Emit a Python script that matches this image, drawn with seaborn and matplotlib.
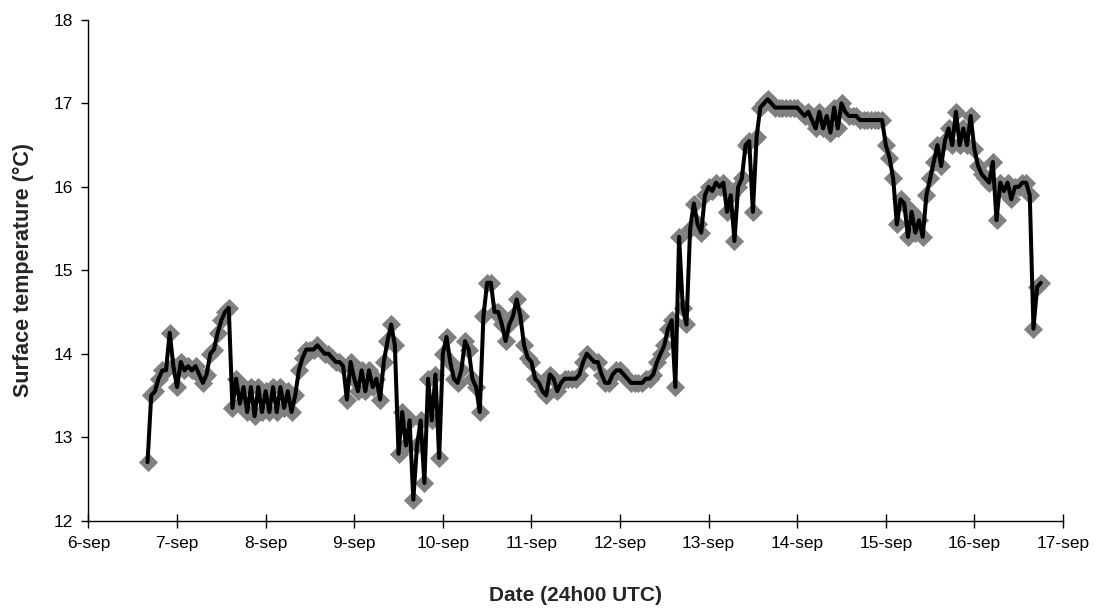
import matplotlib
matplotlib.use("Agg")
import matplotlib.pyplot as plt
import pandas as pd
import seaborn as sns

# hourly surface temperature readings (°C); first reading 6-sep 16h00 UTC
first_hour = 16
sep06 = [12.7, 13.5, 13.55, 13.7, 13.8, 13.8, 14.25, 13.85]
sep07 = [13.6, 13.9, 13.8, 13.85, 13.8, 13.85, 13.75, 13.65, 13.75, 14.0, 14.05, 14.25,
         14.4, 14.5, 14.55, 13.35, 13.7, 13.4, 13.6, 13.3, 13.6, 13.25, 13.6, 13.3]
sep08 = [13.55, 13.3, 13.6, 13.3, 13.6, 13.35, 13.55, 13.3, 13.5, 13.8, 13.95, 14.05,
         14.05, 14.05, 14.1, 14.05, 14.0, 14.0, 13.95, 13.9, 13.9, 13.85, 13.45, 13.9]
sep09 = [13.7, 13.55, 13.8, 13.55, 13.8, 13.6, 13.7, 13.45, 13.9, 14.15, 14.35, 14.1,
         12.8, 13.3, 12.9, 13.2, 12.25, 12.9, 13.2, 12.45, 13.7, 13.2, 13.75, 12.75]
sep10 = [14.0, 14.2, 13.9, 13.7, 13.65, 13.8, 14.15, 14.05, 13.7, 13.6, 13.3, 14.45,
         14.85, 14.85, 14.5, 14.5, 14.35, 14.15, 14.35, 14.45, 14.65, 14.45, 14.1, 13.95]
sep11 = [13.9, 13.7, 13.65, 13.55, 13.5, 13.75, 13.7, 13.55, 13.65, 13.7, 13.7, 13.7,
         13.7, 13.75, 13.9, 14.0, 13.95, 13.9, 13.9, 13.75, 13.65, 13.65, 13.75, 13.8]
sep12 = [13.8, 13.75, 13.7, 13.65, 13.65, 13.65, 13.65, 13.7, 13.7, 13.75, 13.9, 14.0,
         14.1, 14.3, 14.4, 13.6, 15.4, 14.55, 14.35, 15.5, 15.8, 15.55, 15.45, 15.9]
sep13 = [16.0, 15.95, 16.05, 16.0, 16.05, 15.7, 15.9, 15.35, 16.0, 16.1, 16.5, 16.55,
         15.7, 16.6, 16.95, 17.0, 17.05, 17.0, 16.95, 16.95, 16.95, 16.95, 16.95, 16.95]
sep14 = [16.95, 16.9, 16.85, 16.9, 16.8, 16.7, 16.9, 16.7, 16.85, 16.65, 16.95, 16.7,
         17.0, 16.9, 16.85, 16.85, 16.85, 16.8, 16.8, 16.8, 16.8, 16.8, 16.8, 16.8]
sep15 = [16.5, 16.35, 16.1, 15.55, 15.85, 15.8, 15.4, 15.7, 15.45, 15.6, 15.4, 15.9,
         16.1, 16.3, 16.5, 16.25, 16.55, 16.7, 16.5, 16.9, 16.5, 16.7, 16.5, 16.85]
sep16 = [16.45, 16.25, 16.15, 16.1, 16.05, 16.3, 15.6, 16.05, 15.95, 16.05, 15.85, 16.0,
         16.0, 16.05, 16.05, 15.9, 14.3, 14.8, 14.85]

days = [6, 7, 8, 9, 10, 11, 12, 13, 14, 15, 16]
daily = [sep06, sep07, sep08, sep09, sep10, sep11, sep12, sep13, sep14, sep15, sep16]

tick_days = [6, 7, 8, 9, 10, 11, 12, 13, 14, 15, 16, 17]
tick_labels = ["6-sep", "7-sep", "8-sep", "9-sep", "10-sep", "11-sep", "12-sep",
               "13-sep", "14-sep", "15-sep", "16-sep", "17-sep"]
y_ticks = [12, 13, 14, 15, 16, 17, 18]

rows = []
for d, vals in zip(days, daily):
    h0 = first_hour if d == 6 else 0
    for i, v in enumerate(vals):
        rows.append((d + (h0 + i) / 24.0, v))
df = pd.DataFrame(rows, columns=["day", "temp"])

sns.set_style("ticks")
plt.rcParams['font.family'] = ['Liberation Sans', 'DejaVu Sans']

fig = plt.figure(figsize=(11.06, 6.08), dpi=100)
ax = fig.add_axes([0.0800, 0.1439, 0.8811, 0.8232])

sns.scatterplot(data=df, x="day", y="temp", marker="D", s=95, color="#808080",
                linewidth=0, ax=ax, zorder=2)
sns.lineplot(data=df, x="day", y="temp", color="black", linewidth=2.9, ax=ax,
             zorder=3, estimator=None, sort=False)

ax.set_xlim(6, 17)
ax.set_ylim(12, 18)
ax.set_xticks(tick_days)
ax.set_xticklabels(tick_labels)
ax.set_yticks(y_ticks)
ax.set_yticklabels([str(t) for t in y_ticks])

sns.despine(ax=ax)
for s in ["left", "bottom"]:
    ax.spines[s].set_color("black")
    ax.spines[s].set_linewidth(1.0)
ax.tick_params(axis="x", direction="inout", length=10, width=1, colors="black",
               labelsize=12.5, pad=6)
ax.tick_params(axis="y", direction="out", length=5, width=1, colors="black",
               labelsize=12.5, pad=6)

ax.set_xlabel("Date (24h00 UTC)", fontsize=15, fontweight="bold", labelpad=25)
ax.set_ylabel("Surface temperature (°C)", fontsize=15.5, fontweight="bold", labelpad=14)

fig.savefig("out.png", dpi=100)
